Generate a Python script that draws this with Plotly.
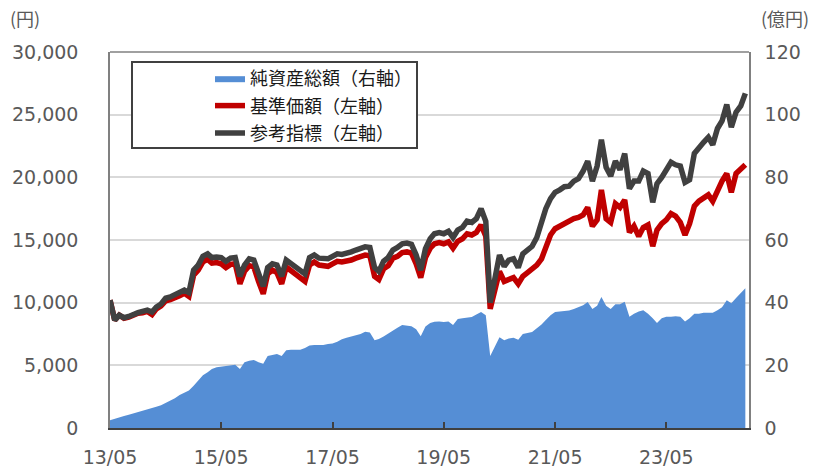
import pandas as pd
import plotly.graph_objects as go

# monthly observation dates (2013/05 .. 2024/10)
dates = pd.date_range("2013-05-01", periods=138, freq="MS")

# 参考指標 (円, left axis)
ref_index = [
    10200, 8600, 9000, 8800, 8900, 9100, 9200, 9300, 9400, 9250,
    9650, 9900, 10350, 10450, 10600, 10800, 11000, 10800, 12600, 13000,
    13700, 13900, 13600, 13650, 13600, 13300, 13550, 13600, 12100, 13000,
    13500, 13400, 12300, 11300, 12800, 13100, 13000, 12100, 13400, 13100,
    12900, 12500, 12300, 13600, 13800, 13550, 13500, 13500, 13700, 13900,
    13850, 13900, 14050, 14200, 14350, 14450, 14400, 12800, 12500, 13300,
    13600, 14200, 14400, 14700, 14750, 14650, 13800, 12600, 14300, 15100,
    15500, 15600, 15500, 15700, 15200, 15800, 16000, 16500, 16400, 16700,
    17500, 16500, 10000, 12000, 13800, 12900, 13400, 13500, 12800, 13900,
    14200, 14500, 15200, 16500, 17500, 18300, 18800, 19000, 19250, 19300,
    19700, 19900, 20500, 21300, 19700, 20900, 23000, 20800, 20100, 21300,
    20600, 21900, 19100, 19700, 19700, 20500, 20300, 18000, 19500, 20000,
    20500, 21200, 21000, 20900, 19600, 19800, 21900, 22400, 22800, 23200,
    22600, 23900, 24500, 25800, 24000, 25200, 25700, 26700,
]

# 基準価額 (円, left axis)
nav_price = [
    10200, 8600, 9000, 8750, 8850, 9050, 9150, 9200, 9300, 9050,
    9500, 9750, 10150, 10250, 10350, 10550, 10750, 10500, 12200, 12600,
    13250, 13450, 13150, 13200, 13100, 12800, 13050, 13100, 11500, 12500,
    12950, 12850, 11700, 10700, 12300, 12600, 12400, 11500, 12850, 12550,
    12300, 11900, 11700, 13000, 13250, 13000, 12900, 12900, 13100, 13300,
    13250, 13300, 13400, 13550, 13700, 13800, 13750, 12100, 11850, 12700,
    12950, 13550, 13700, 14000, 14050, 13950, 13100, 12000, 13600, 14350,
    14700, 14800, 14700, 14850, 14350, 14900, 15100, 15500, 15400, 15600,
    16200, 15300, 9500, 11200, 12500, 11700, 11900, 12000, 11500, 12100,
    12400, 12700, 13000, 13500, 14500, 15400, 15900, 16100, 16300, 16600,
    16700, 16800, 17000, 17600, 16100, 16600, 19000, 16700, 16400, 17900,
    17600, 18200, 15600, 16100, 15300, 16000, 16200, 14500, 15800, 16300,
    16600, 17100, 16900, 16400, 15400, 16300, 17700, 18100, 18400, 18600,
    18100, 19000, 19700, 20300, 18800, 20300, 20600, 21000,
]

# 純資産総額 (億円, right axis)
net_assets = [
    2.5, 3.0, 3.4, 3.8, 4.2, 4.6, 5.2, 5.6, 6.0, 6.4,
    6.8, 7.3, 8.0, 8.8, 9.5, 10.5, 11.3, 12.0, 13.5, 15.0,
    16.8, 17.8, 18.8, 19.4, 19.6, 19.8, 20.0, 20.2, 18.8, 21.0,
    21.5, 21.7, 21.0, 20.5, 23.0, 23.4, 23.6, 23.0, 24.8, 25.0,
    25.0, 25.0, 25.5, 26.3, 26.5, 26.5, 26.5, 26.8, 27.0, 27.5,
    28.3, 28.8, 29.2, 29.6, 30.0, 30.7, 30.5, 28.0, 28.4, 29.2,
    30.2, 31.2, 32.0, 32.9, 32.6, 32.5, 31.5, 29.3, 32.4, 33.5,
    33.9, 34.0, 33.8, 34.0, 32.9, 34.8, 35.0, 35.2, 35.4, 36.2,
    37.0, 36.0, 23.0, 26.0, 29.0, 28.0, 28.6, 28.8, 28.2, 30.0,
    30.3, 30.6, 31.8, 33.0, 34.5, 36.0, 37.0, 37.2, 37.3, 37.5,
    38.0, 38.7, 39.2, 40.2, 38.0, 39.0, 41.8, 39.0, 38.0, 39.5,
    39.5, 40.3, 35.5, 36.5, 37.2, 37.6, 36.5, 35.0, 33.5, 35.0,
    35.5, 35.5, 35.7, 35.5, 34.0, 35.0, 36.5, 36.5, 36.8, 36.8,
    36.8, 37.6, 38.5, 40.8, 39.8, 41.5, 43.0, 44.6,
]

names = ["純資産総額（右軸）", "基準価額（左軸）", "参考指標（左軸）"]
tick_font = dict(family="DejaVu Sans, Verdana, sans-serif", size=19, color="#595959")
jp_font = "Noto Sans CJK JP, sans-serif"

fig = go.Figure()
fig.add_trace(go.Scatter(
    x=dates, y=net_assets, name=names[0], yaxis="y",
    mode="lines", line=dict(width=0, color="#558ED5"),
    fill="tozeroy", fillcolor="#558ED5", legendgroup="a",
))
fig.add_trace(go.Scatter(
    x=dates, y=nav_price, name=names[1], yaxis="y2",
    mode="lines", line=dict(width=5.5, color="#C00000"), legendgroup="b",
))
fig.add_trace(go.Scatter(
    x=dates, y=ref_index, name=names[2], yaxis="y2",
    mode="lines", line=dict(width=5.5, color="#404040"), legendgroup="c",
))

W, H = 813, 467
PL, PR, PT, PB = 110, 749, 52, 428   # plot area in page pixels
L, T, R, B = PL, PT, W - PR, H - PB
pw, ph = PR - PL, PB - PT

def px(x):
    return (x - PL) / pw

def py(y):
    return (PB - y) / ph

fig.update_layout(
    width=W, height=H,
    margin=dict(l=L, r=R, t=T, b=B, pad=0, autoexpand=False),
    paper_bgcolor="white", plot_bgcolor="white",
    showlegend=True,
    legend=dict(
        x=px(210), y=py(60), xanchor="left", yanchor="top",
        bgcolor="rgba(0,0,0,0)", borderwidth=0,
        font=dict(family=jp_font, size=18, color="#1a1a1a"),
        traceorder="grouped", tracegroupgap=1,
    ),
    xaxis=dict(
        type="date", range=["2013-05-01", "2024-10-25"],
        tick0="2013-05-01", dtick="M24", tickformat="%y/%m",
        showgrid=False, showline=True, linecolor="#404040", linewidth=2,
        ticks="inside", ticklen=6, tickwidth=2, tickcolor="#404040",
        tickfont=tick_font, ticklabelstandoff=11, zeroline=False,
        automargin=False,
    ),
    yaxis=dict(
        side="right", range=[0, 120], dtick=20,
        showgrid=True, gridcolor="#D9D9D9", gridwidth=2,
        showline=True, linecolor="#808080", linewidth=1.5,
        tickfont=tick_font, ticklabelstandoff=10, zeroline=False,
        automargin=False,
    ),
    yaxis2=dict(
        overlaying="y", side="left", range=[0, 30000], dtick=5000,
        tickformat=",", showgrid=False,
        showline=True, linecolor="#808080", linewidth=1.5,
        tickfont=tick_font, ticklabelstandoff=26, zeroline=False,
        automargin=False,
    ),
    shapes=[
        dict(type="line", xref="paper", yref="paper", x0=0, x1=1, y0=1, y1=1,
             line=dict(color="#808080", width=1.5)),
        dict(type="rect", xref="paper", yref="paper",
             x0=px(132), x1=px(417), y0=py(148), y1=py(62),
             line=dict(color="#404040", width=2), fillcolor="white"),
    ],
    annotations=[
        dict(text="(円)", xref="paper", yref="paper", x=px(8), y=py(18),
             xanchor="left", yanchor="middle", showarrow=False,
             font=dict(family=jp_font, size=18, color="#595959")),
        dict(text="(億円)", xref="paper", yref="paper", x=px(811), y=py(18),
             xanchor="right", yanchor="middle", showarrow=False,
             font=dict(family=jp_font, size=18, color="#595959")),
    ],
)

fig.write_html(
    "out.html",
    config={"displayModeBar": False},
    post_script="document.body.style.margin='0';document.body.style.overflow='hidden';",
)
